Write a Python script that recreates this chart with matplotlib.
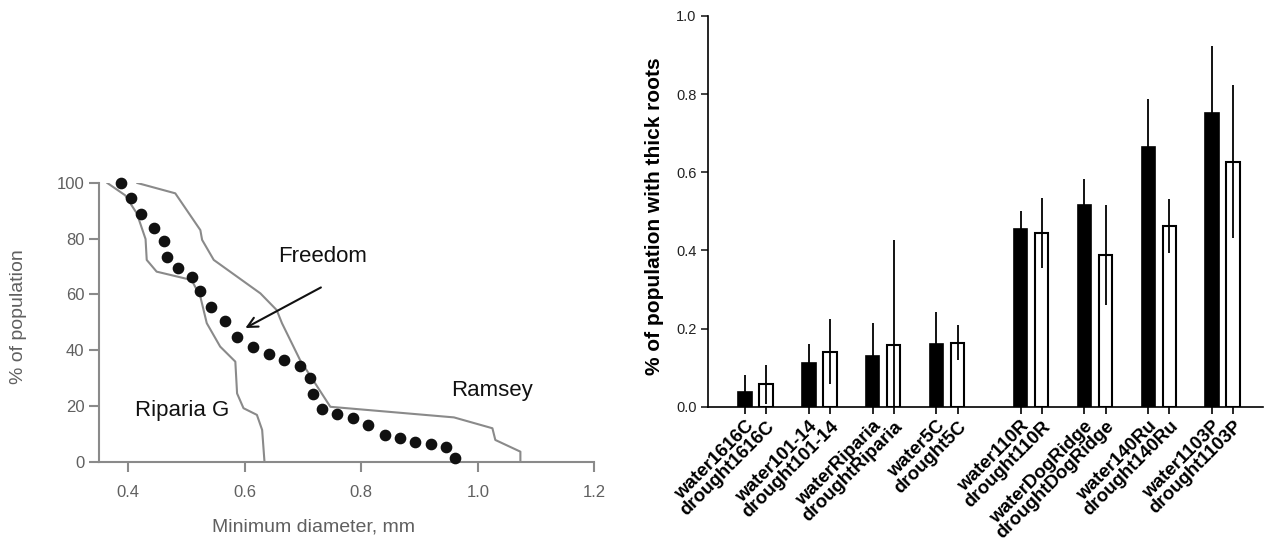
import matplotlib
matplotlib.use("Agg")
import matplotlib.pyplot as plt
import numpy as np

plt.rcParams['font.family'] = ['Liberation Sans', 'DejaVu Sans']

# left panel: cumulative distribution of minimum root diameter
freedom_x = [0.388, 0.405, 0.422, 0.445, 0.462, 0.466, 0.485, 0.510, 0.524, 0.542,
             0.566, 0.587, 0.615, 0.642, 0.668, 0.695, 0.712, 0.717, 0.732, 0.759,
             0.785, 0.812, 0.840, 0.866, 0.893, 0.920, 0.946, 0.960]
freedom_y = [100, 94.5, 88.9, 83.9, 79.1, 73.3, 69.6, 66.4, 61.2, 55.6,
             50.4, 44.9, 41.0, 38.5, 36.4, 34.2, 29.9, 24.2, 19.0, 17.1,
             15.6, 13.2, 9.5, 8.4, 7.2, 6.2, 5.2, 1.2]

riparia_x = [0.3645, 0.395, 0.415, 0.430, 0.432, 0.449, 0.509, 0.524, 0.535, 0.558,
             0.584, 0.587, 0.598, 0.621, 0.630, 0.634]
riparia_y = [100, 95.6, 89.1, 79.9, 72.4, 68.2, 65.2, 59.2, 49.7, 41.3,
             35.9, 24.5, 19.2, 16.8, 11.4, 0]

ramsey_x = [0.416, 0.481, 0.524, 0.527, 0.547, 0.627, 0.655, 0.664, 0.695, 0.747,
            0.959, 1.025, 1.030, 1.073, 1.073]
ramsey_y = [100, 96.3, 83.1, 79.6, 72.4, 60.4, 54.4, 49.7, 36.5, 19.7,
            15.9, 12.0, 7.8, 3.6, 0]

# right panel: bar chart
rootstocks = ['1616C', '101-14', 'Riparia', '5C', '110R', 'DogRidge', '140Ru', '1103P']
water_mean = [0.038, 0.111, 0.131, 0.160, 0.455, 0.516, 0.664, 0.751]
water_err = [0.043, 0.049, 0.082, 0.083, 0.046, 0.066, 0.124, 0.173]
drought_mean = [0.057, 0.141, 0.157, 0.164, 0.444, 0.388, 0.463, 0.627]
drought_err = [0.051, 0.083, 0.270, 0.045, 0.089, 0.128, 0.069, 0.196]

fig = plt.figure(figsize=(12.65, 5.46), dpi=100)

gray = '#8a8a8a'
txtgray = '#606060'

ax1 = fig.add_axes([0.0782, 0.1544, 0.3917, 0.5104])
ax1.plot(riparia_x, riparia_y, color=gray, lw=1.5, zorder=2)
ax1.plot(ramsey_x, ramsey_y, color=gray, lw=1.5, zorder=2)
ax1.plot(freedom_x, freedom_y, 'o', color='#111111', ms=7.4, zorder=3, clip_on=False)
ax1.set_xlim(0.35, 1.2)
ax1.set_ylim(0, 100)
ax1.set_xticks([0.4, 0.6, 0.8, 1.0, 1.2])
ax1.set_xticklabels(['0.4', '0.6', '0.8', '1.0', '1.2'])
ax1.set_yticks([0, 20, 40, 60, 80, 100])
for s in ['top', 'right']:
    ax1.spines[s].set_visible(False)
for s in ['left', 'bottom']:
    ax1.spines[s].set_color(gray)
    ax1.spines[s].set_linewidth(1.5)
ax1.tick_params(colors=gray, labelcolor=txtgray, labelsize=12, length=7, width=1.5)
ax1.tick_params(axis='x', pad=10)
ax1.set_xlabel('Minimum diameter, mm', fontsize=14, color=txtgray)
ax1.xaxis.set_label_coords(0.434, -0.205)
ax1.set_ylabel('% of population', fontsize=14, color=txtgray)
ax1.yaxis.set_label_coords(-0.145, 0.521)

ax1.annotate('', xy=(0.597, 47.5), xytext=(0.735, 63),
             arrowprops=dict(arrowstyle='->', color='#111111', lw=1.5,
                             mutation_scale=18))
ax1.text(0.733, 73.8, 'Freedom', fontsize=16, color='#111111', ha='center', va='center')
ax1.text(0.492, 18.5, 'Riparia G', fontsize=16, color='#111111', ha='center', va='center')
ax1.text(1.025, 25.7, 'Ramsey', fontsize=16, color='#111111', ha='center', va='center')

# right panel
ax2 = fig.add_axes([0.56, 0.2551, 0.4385, 0.7156])
idx = np.arange(len(rootstocks))
pos_w = idx + np.where(idx >= 4, 0.32, 0.0)
pos_d = pos_w + 0.33
bw = 0.21
ax2.bar(pos_w, water_mean, bw, color='black', edgecolor='black', lw=1.2, zorder=2)
ax2.bar(pos_d, drought_mean, bw, color='white', edgecolor='black', lw=1.5, zorder=2)
ax2.errorbar(pos_w, water_mean, yerr=water_err, fmt='none', ecolor='black',
             elinewidth=1.3, capsize=0, zorder=3)
ax2.errorbar(pos_d, drought_mean, yerr=drought_err, fmt='none', ecolor='black',
             elinewidth=1.3, capsize=0, zorder=3)
ax2.set_xlim(-0.575, 8.12)
ax2.set_ylim(0, 1.0)
ax2.set_yticks([0.0, 0.2, 0.4, 0.6, 0.8, 1.0])
ax2.set_yticklabels(['0.0', '0.2', '0.4', '0.6', '0.8', '1.0'])

ticks = []
labels = []
for i, r in enumerate(rootstocks):
    ticks += [pos_w[i], pos_d[i]]
    labels += ['water' + r, 'drought' + r]
ax2.set_xticks(ticks)
ax2.set_xticklabels(labels, rotation=45, ha='right', rotation_mode='anchor',
                    fontsize=13.5, fontweight='bold')
for s in ['top', 'right']:
    ax2.spines[s].set_visible(False)
for s in ['left', 'bottom']:
    ax2.spines[s].set_linewidth(1.2)
ax2.tick_params(axis='y', labelsize=10.5, length=5, width=1.2, colors='#222222')
ax2.tick_params(axis='x', length=5, width=1.2, pad=3)
ax2.set_ylabel('% of population with thick roots', fontsize=15, fontweight='bold')
ax2.yaxis.set_label_coords(-0.080, 0.488)

fig.savefig('out.png', dpi=100, facecolor='white')
